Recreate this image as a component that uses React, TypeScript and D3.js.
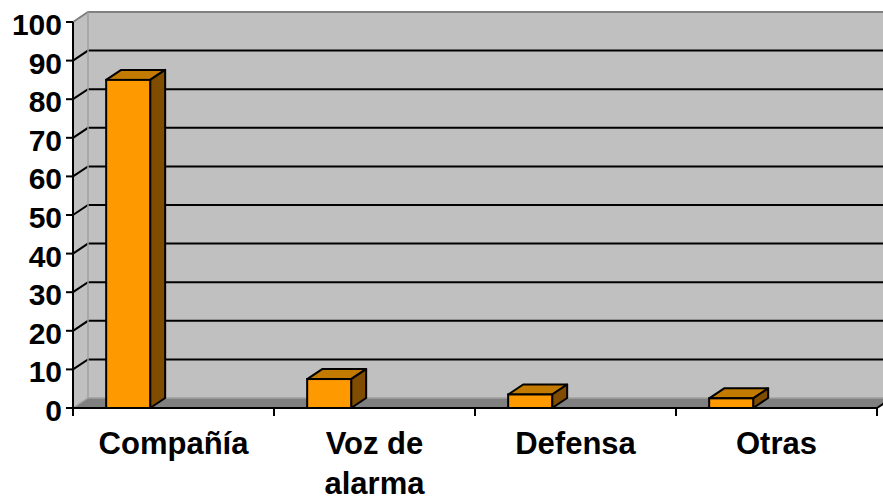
import React, { useEffect, useRef } from 'react'
import * as d3 from 'd3'

const categories = ['Compañía', 'Voz de alarma', 'Defensa', 'Otras']
const categoryLines = [['Compañía'], ['Voz de', 'alarma'], ['Defensa'], ['Otras']]
const values = [85, 7.5, 3.5, 2.5]
const yTicks = [0, 10, 20, 30, 40, 50, 60, 70, 80, 90, 100]

const svgWidth = 883
const svgHeight = 502

const App = () => {
    const ref = useRef<SVGSVGElement>(null)

    useEffect(() => {
        const svg = d3.select(ref.current)
        svg.selectAll('*').remove()

        // depth offset of the 3d box
        const dx = 15
        const dy = -10
        const left = 73
        const right = 877
        const bottom = 408
        const top = 22

        const y = d3.scaleLinear().domain([0, 100]).range([bottom, top])
        const x = d3.scaleBand().domain(categories).range([left, right]).padding(0)
        const barOffset = x.bandwidth() * 0.165
        const barWidth = 44

        const font = "'Liberation Sans', Arial, sans-serif"

        // walls
        svg.append('polygon')
            .attr('points', [[left, top], [left + dx, top + dy], [left + dx, bottom + dy], [left, bottom]].join(' '))
            .attr('fill', '#c0c0c0')
        svg.append('rect')
            .attr('x', left + dx).attr('y', top + dy)
            .attr('width', svgWidth - left).attr('height', bottom - top)
            .attr('fill', '#c0c0c0')
        svg.append('polygon')
            .attr('points', [[left, bottom], [left + dx, bottom + dy], [right + dx, bottom + dy], [right, bottom]].join(' '))
            .attr('fill', '#808080')

        // gridlines
        const grid = yTicks.filter(t => t > 0 && t < 100)
        svg.selectAll('.grid')
            .data(grid)
            .enter().append('path')
            .attr('class', 'grid')
            .attr('d', t => `M${left},${y(t)}L${left + dx},${y(t) + dy}L${svgWidth + 10},${y(t) + dy}`)
            .attr('fill', 'none')
            .attr('stroke', '#000')
            .attr('stroke-width', 2)

        // wall edges
        svg.append('path')
            .attr('d', `M${left},${top}L${left + dx},${top + dy}L${svgWidth + 10},${top + dy}`)
            .attr('fill', 'none').attr('stroke', '#808080').attr('stroke-width', 2)
        svg.append('path')
            .attr('d', `M${left + dx},${top + dy}L${left + dx},${bottom + dy}L${svgWidth + 10},${bottom + dy}`)
            .attr('fill', 'none').attr('stroke', '#a0a0a0').attr('stroke-width', 1.5)
        svg.append('path')
            .attr('d', `M${left},${bottom}L${left + dx},${bottom + dy}`)
            .attr('fill', 'none').attr('stroke', '#a0a0a0').attr('stroke-width', 1.5)

        // bars
        const bars = svg.selectAll('.bar')
            .data(categories)
            .enter().append('g')
            .attr('class', 'bar')
        bars.each(function (c, i) {
            const g = d3.select(this)
            const x0 = (x(c) as number) + barOffset
            const yv = y(values[i])
            g.append('polygon')
                .attr('points', [[x0, yv], [x0 + dx, yv + dy], [x0 + barWidth + dx, yv + dy], [x0 + barWidth, yv]].join(' '))
                .attr('fill', '#c27a00').attr('stroke', '#000').attr('stroke-width', 2).attr('stroke-linejoin', 'round')
            g.append('polygon')
                .attr('points', [[x0 + barWidth, yv], [x0 + barWidth + dx, yv + dy], [x0 + barWidth + dx, bottom + dy], [x0 + barWidth, bottom]].join(' '))
                .attr('fill', '#804c00').attr('stroke', '#000').attr('stroke-width', 2).attr('stroke-linejoin', 'round')
            g.append('rect')
                .attr('x', x0).attr('y', yv)
                .attr('width', barWidth).attr('height', bottom - yv)
                .attr('fill', '#ff9900').attr('stroke', '#000').attr('stroke-width', 2)
        })

        // y axis
        svg.append('line')
            .attr('x1', left).attr('x2', left).attr('y1', top).attr('y2', bottom)
            .attr('stroke', '#000').attr('stroke-width', 2)
        svg.selectAll('.ytick')
            .data(yTicks)
            .enter().append('line')
            .attr('class', 'ytick')
            .attr('x1', left - 7).attr('x2', left)
            .attr('y1', t => y(t)).attr('y2', t => y(t))
            .attr('stroke', '#000').attr('stroke-width', 2)
        svg.selectAll('.ylabel')
            .data(yTicks)
            .enter().append('text')
            .attr('class', 'ylabel')
            .attr('x', 62)
            .attr('y', t => y(t) + 13)
            .attr('text-anchor', 'end')
            .attr('font-family', font)
            .attr('font-weight', 'bold')
            .attr('font-size', 30)
            .text(t => t)

        // x axis
        svg.append('line')
            .attr('x1', left).attr('x2', right).attr('y1', bottom).attr('y2', bottom)
            .attr('stroke', '#000').attr('stroke-width', 2)
        const bounds = categories.map(c => x(c) as number).concat([right])
        svg.selectAll('.xtick')
            .data(bounds)
            .enter().append('line')
            .attr('class', 'xtick')
            .attr('x1', d => d).attr('x2', d => d)
            .attr('y1', bottom).attr('y2', bottom + 8)
            .attr('stroke', '#000').attr('stroke-width', 2)
        svg.append('path')
            .attr('d', `M${right},${bottom}L${right + dx},${bottom + dy}`)
            .attr('stroke', '#000').attr('stroke-width', 2)

        const xLabels = svg.selectAll('.xlabel')
            .data(categories)
            .enter().append('text')
            .attr('class', 'xlabel')
            .attr('text-anchor', 'middle')
            .attr('font-family', font)
            .attr('font-weight', 'bold')
            .attr('font-size', 31)
        xLabels.each(function (c, i) {
            const cx = (x(c) as number) + x.bandwidth() / 2
            categoryLines[i].forEach((line, j) => {
                d3.select(this).append('tspan')
                    .attr('x', cx)
                    .attr('y', 454 + j * 40)
                    .text(line)
            })
        })
    }, [])

    return (
        <svg ref={ref} width={svgWidth} height={svgHeight}
            style={{ position: 'absolute', left: 0, top: 0, background: '#fff' }}></svg>
    )
}

export default App
